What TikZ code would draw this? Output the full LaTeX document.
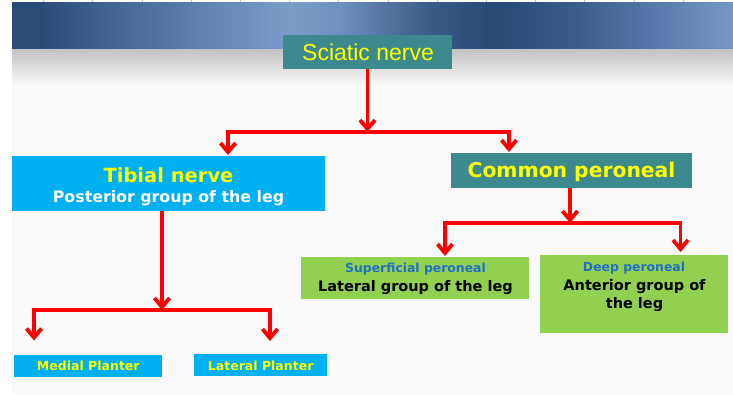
\documentclass[tikz,border=0pt]{standalone}
\usepackage{fontspec}
\setmainfont{DejaVu Sans}
\newfontfamily\arialf{Liberation Sans}
\usetikzlibrary{arrows.meta}
\definecolor{pagebg}{HTML}{F9F9F9}
\definecolor{cteal}{HTML}{3D8A8E}
\definecolor{cblue}{HTML}{00B0F0}
\definecolor{cgreen}{HTML}{92D050}
\definecolor{cyell}{HTML}{FFFF00}
\definecolor{ctxtblue}{HTML}{1F6FC5}
\definecolor{hA}{HTML}{2A4A78}
\definecolor{hB}{HTML}{3F6090}
\definecolor{hC}{HTML}{5F82B3}
\definecolor{hD}{HTML}{7C9CC8}
\definecolor{hE}{HTML}{6F90C0}
\definecolor{hF}{HTML}{52719F}
\definecolor{hG}{HTML}{3A5A88}
\definecolor{hH}{HTML}{284876}
\definecolor{hI}{HTML}{3C5D8D}
\definecolor{hJ}{HTML}{5A7BAD}
\definecolor{hK}{HTML}{7698C6}
\begin{document}
\begin{tikzpicture}[x=1pt,y=-1pt,
  boxn/.style={inner sep=0pt, outer sep=0pt, anchor=north west},
  arr/.style={draw=red, line width=3.8pt, line join=miter, -{Straight Barb[length=9pt,width=15pt]}},
  lbl/.style={inner sep=0pt, font=\bfseries}
]
\useasboundingbox (0,0) rectangle (733,394);
\fill[white] (0,0) rectangle (733,394);
\fill[pagebg] (12,2) rectangle (733,394);
\foreach \i in {0,...,13} \draw[gray!45, line width=0.6pt] (43.5+49.2*\i,0) -- ++(0,2.5);
% header band
\shade[left color=hA, right color=hA] (12,2.5) rectangle (40,49);
\shade[left color=hA, right color=hB] (40,2.5) rectangle (100,49);
\shade[left color=hB, right color=hC] (100,2.5) rectangle (200,49);
\shade[left color=hC, right color=hD] (200,2.5) rectangle (290,49);
\shade[left color=hD, right color=hE] (290,2.5) rectangle (340,49);
\shade[left color=hE, right color=hF] (340,2.5) rectangle (390,49);
\shade[left color=hF, right color=hG] (390,2.5) rectangle (430,49);
\shade[left color=hG, right color=hH] (430,2.5) rectangle (495,49);
\shade[left color=hH, right color=hI] (495,2.5) rectangle (580,49);
\shade[left color=hI, right color=hJ] (580,2.5) rectangle (660,49);
\shade[left color=hJ, right color=hK] (660,2.5) rectangle (733,49);
\shade[top color=black!24, bottom color=pagebg] (12,49) rectangle (733,85);

% boxes
\node[boxn, fill=cteal, minimum width=169pt, minimum height=34pt] (sci) at (283,35) {};
\node[boxn, fill=cblue, minimum width=313pt, minimum height=54.5pt] (tib) at (12,156) {};
\node[boxn, fill=cteal, minimum width=241pt, minimum height=35pt] (cp) at (451,153) {};
\node[boxn, fill=cgreen, minimum width=228pt, minimum height=42pt] (sup) at (301,257) {};
\node[boxn, fill=cgreen, minimum width=188pt, minimum height=78pt] (deep) at (540,255) {};
\node[boxn, fill=cblue, minimum width=148pt, minimum height=22pt] (med) at (14,354.5) {};
\node[boxn, fill=cblue, minimum width=133pt, minimum height=22pt] (latp) at (194,354) {};

% labels
\node[inner sep=0pt, font=\arialf\fontsize{23}{26}\selectfont, text=cyell] (scit) at (368,52) {Sciatic nerve};
\node[lbl, font=\bfseries\fontsize{19.5}{22}\selectfont, text=cyell] (tibt) at (168.5,175) {Tibial nerve};
\node[lbl, font=\bfseries\fontsize{15.8}{18}\selectfont, text=white] (tibs) at (168.5,198.5) {Posterior group of the leg};
\node[lbl, font=\bfseries\fontsize{20.3}{23}\selectfont, text=cyell] (cpt) at (571.5,172) {Common peroneal};
\node[lbl, font=\bfseries\fontsize{12.4}{14}\selectfont, text=ctxtblue] (supt) at (415.5,269) {Superficial peroneal};
\node[lbl, font=\bfseries\fontsize{14.5}{17}\selectfont, text=black] (sups) at (415.5,287.5) {Lateral group of the leg};
\node[lbl, font=\bfseries\fontsize{12.4}{14}\selectfont, text=ctxtblue] (deept) at (634,268) {Deep peroneal};
\node[lbl, font=\bfseries\fontsize{14.5}{17}\selectfont, text=black] (deeps1) at (634.5,287) {Anterior group of};
\node[lbl, font=\bfseries\fontsize{14.5}{17}\selectfont, text=black] (deeps2) at (634.5,304.5) {the leg};
\node[lbl, font=\bfseries\fontsize{12.5}{14}\selectfont, text=cyell] (medt) at (88.3,366) {Medial Planter};
\node[lbl, font=\bfseries\fontsize{12.5}{14}\selectfont, text=cyell] (latpt) at (260.7,365.5) {Lateral Planter};

% connectors
\coordinate (j1) at (367.5,132);
\coordinate (j2) at (570,223);
\coordinate (j3) at (162,310);
\draw[arr] (sci.south) -- (j1);
\draw[arr] (j1) -| ([xshift=59.5pt,yshift=1pt]tib.north);
\draw[arr] (j1) -| ([xshift=-62.5pt,yshift=1pt]cp.north);
\draw[arr] (cp.south -| j2) -- (j2);
\draw[arr] (j2) -| ([xshift=30pt,yshift=1pt]sup.north);
\draw[arr] (j2) -| ([xshift=46.5pt,yshift=3pt]deep.north);
\draw[arr] (tib.south -| j3) -- (j3);
\draw[arr] (j3) -| ([xshift=-54pt,yshift=14pt]med.north);
\draw[arr] (j3) -| ([xshift=9.5pt,yshift=13pt]latp.north);
\end{tikzpicture}
\end{document}
